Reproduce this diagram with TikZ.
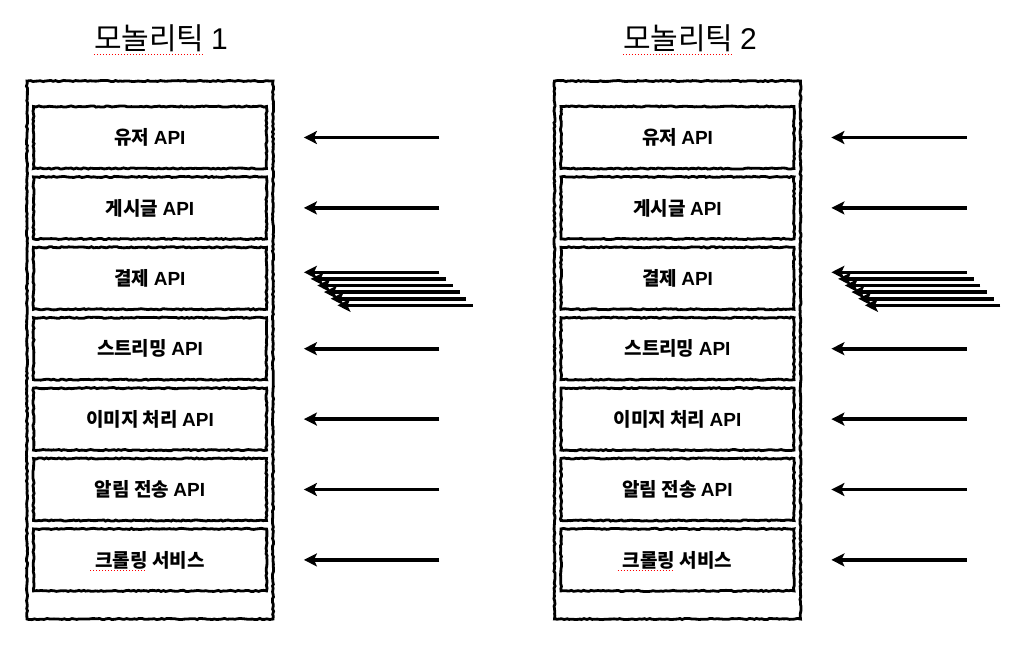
\documentclass[tikz,border=0pt]{standalone}
\usepackage{fontspec}
\setmainfont{Noto Sans CJK KR}
\newfontfamily\lat{Liberation Sans}[BoldFont={Liberation Sans Bold}]
\usetikzlibrary{arrows.meta,decorations.pathmorphing,calc}
\tikzset{
  sketch/.style={draw=black,line width=2.8pt,decorate,decoration={random steps,segment length=2.5pt,amplitude=0.6pt}},
  outerbox/.style={sketch,minimum width=246pt,minimum height=538pt,inner sep=0pt},
  apibox/.style={sketch,minimum width=233pt,minimum height=62pt,inner sep=0pt,font=\fontsize{19}{22}\selectfont\bfseries},
  title/.style={font=\fontsize{30}{34}\selectfont,inner sep=0pt},
  callarrow/.style={line width=3.6pt,-{Stealth[length=13pt,width=13pt,inset=3pt]}},
  spell/.style={red,line width=1pt,dotted}
}
\newcommand\apiword{{\lat\bfseries API}}
\begin{document}
\begin{tikzpicture}[x=1pt,y=-1pt]
\useasboundingbox (0,0) rectangle (1026,645);
\fill[white] (0,0) rectangle (1026,645);
\foreach \p/\ox/\tx/\num in {L/150/161/1,R/677.5/690/2}{
  \node[title] (title\p) at (\tx,38) {모놀리틱 {\lat\num}};
  \draw[spell] ($(title\p.south west)+(0,3)$) -- ++(110,0);
  \node[outerbox] (outer\p) at (\ox,350) {};
  \foreach \i/\lab in {1/유저 \apiword,2/게시글 \apiword,3/결제 \apiword,4/스트리밍 \apiword,5/이미지 처리 \apiword,6/알림 전송 \apiword,7/크롤링 서비스}{
    \node[apibox] (b\p\i) at (\ox,{137.5+70.4*(\i-1)}) {\lab};
  }
  \foreach \i in {1,2,4,5,6,7}{
    \coordinate (s\p\i) at ($(b\p\i.east)+(171.5,0)$);
    \coordinate (e\p\i) at ($(b\p\i.east)+(36,0)$);
    \draw[callarrow] (s\p\i) -- (e\p\i);
  }
  \foreach \k in {0,...,5}{
    \coordinate (ms\p\k) at ($(b\p3.east)+(171.5+6.7*\k,-6+6.6*\k)$);
    \coordinate (me\p\k) at ($(b\p3.east)+(36+6.7*\k,-6+6.6*\k)$);
    \draw[callarrow] (ms\p\k) -- (me\p\k);
  }
  \draw[spell] ($(b\p7.center)+(-60,11)$) -- ++(56,0);
}
\end{tikzpicture}
\end{document}
